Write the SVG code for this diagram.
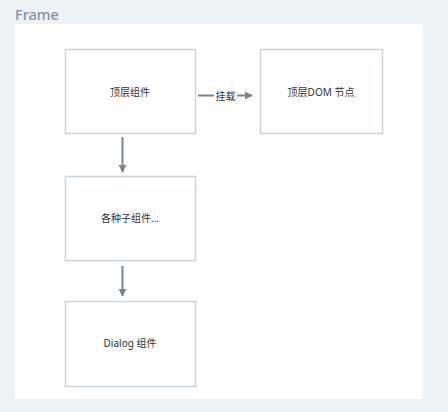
<svg xmlns="http://www.w3.org/2000/svg" width="448" height="412" viewBox="0 0 448 412">
<style>
.n{fill:#fff;stroke:#c9d4dc;stroke-width:1.5}
.t{font-family:"Noto Sans","Noto Sans CJK SC",sans-serif;font-size:10px;fill:#333;text-anchor:middle;dominant-baseline:central}
.c{stroke:#788592;stroke-width:2;fill:none}
</style>
<defs>
<marker id="a" viewBox="0 0 10 10" refX="9" refY="5" markerWidth="4" markerHeight="4" orient="auto" markerUnits="strokeWidth"><path d="M0,0L10,5L0,10z" fill="#788592"/></marker>
</defs>
<rect width="448" height="412" fill="#eef2f5"/>
<rect x="15" y="24" width="408" height="375" fill="#fff"/>
<text x="15" y="20" font-family="'Noto Sans',sans-serif" font-size="14.5" font-weight="500" fill="#8494a3">Frame</text>
<g id="n1"><rect class="n" x="65.5" y="49.5" width="130" height="84"/><text class="t" x="130" y="92">顶层组件</text></g>
<g id="n2"><rect class="n" x="260.5" y="49.5" width="122" height="84"/><text class="t" x="321" y="92">顶层DOM 节点</text></g>
<g id="n3"><rect class="n" x="65.5" y="176.5" width="130" height="84"/><text class="t" x="130" y="218">各种子组件...</text></g>
<g id="n4"><rect class="n" x="65.5" y="301.5" width="130" height="85"/><text class="t" x="130" y="343">Dialog 组件</text></g>
<g id="edges">
<path class="c" d="M198,95.5H214"/>
<text class="t" x="225.5" y="95.5">挂载</text>
<path class="c" d="M237,95.5H252" marker-end="url(#a)"/>
<path class="c" d="M122.5,137V172" marker-end="url(#a)"/>
<path class="c" d="M122.5,266V296" marker-end="url(#a)"/>
</g>
</svg>
